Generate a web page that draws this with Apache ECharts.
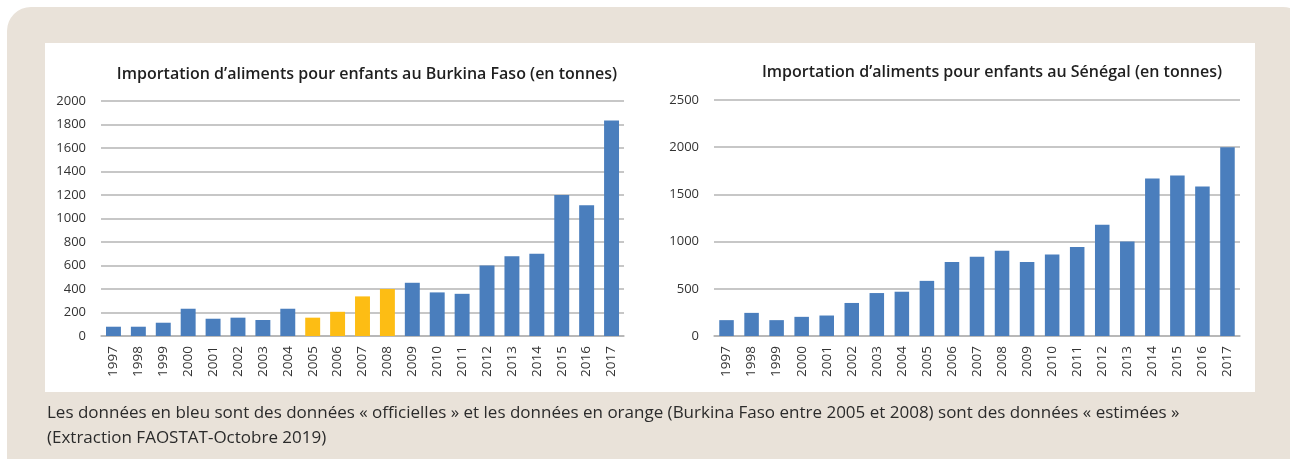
<!DOCTYPE html>
<html lang="fr">
<head>
<meta charset="utf-8">
<title>Importation d'aliments pour enfants</title>
<script src="https://cdn.jsdelivr.net/npm/echarts@6/dist/echarts.min.js"></script>
<style>
  html, body { margin: 0; padding: 0; background: #ffffff; }
  #page { position: relative; width: 1290px; height: 459px; overflow: hidden; }
  #frame {
    position: absolute; left: 7px; top: 7px; width: 1300px; height: 480px;
    background: #e9e2d9; border-radius: 24px 24px 0 0;
  }
  #panel {
    position: absolute; left: 45px; top: 43px; width: 1210px; height: 349px;
    background: #ffffff;
  }
  #chart { position: absolute; left: 0; top: 0; width: 1290px; height: 459px; }
  #caption {
    position: absolute; left: 47px; top: 399px; width: 1230px;
    font-family: "Open Sans", Lato, sans-serif; font-size: 17px; line-height: 25px;
    color: #2b2b2b; white-space: nowrap;
  }
</style>
</head>
<body>
<div id="page">
  <div id="frame"></div>
  <div id="panel"></div>
  <div id="chart"></div>
  <div id="caption">Les données en bleu sont des données « officielles » et les données en orange (Burkina Faso entre 2005 et 2008) sont des données « estimées »<br>(Extraction FAOSTAT-Octobre 2019)</div>
</div>
<script>
// Years shared by both charts
const years = ['1997','1998','1999','2000','2001','2002','2003','2004','2005','2006','2007',
               '2008','2009','2010','2011','2012','2013','2014','2015','2016','2017'];

// Imports of baby food, tonnes
const burkinaFaso = [79, 79, 113, 232, 147, 156, 136, 232, 156, 206, 337,
                     400, 453, 371, 359, 600, 679, 699, 1200, 1112, 1833];
const senegal = [168, 245, 168, 203, 217, 350, 455, 469, 584, 783, 839,
                 902, 783, 864, 944, 1178, 1000, 1668, 1699, 1584, 2000];

// Burkina Faso years whose values are estimates rather than official figures
const estimatedYears = ['2005', '2006', '2007', '2008'];

// Y-axis ticks
const burkinaTicks = { min: 0, max: 2000, interval: 200 };
const senegalTicks = { min: 0, max: 2500, interval: 500 };

const BLUE = '#4a7ebd';
const ORANGE = '#fdbd14';
const GRID_LINE = '#b4b4b4';
const TICK_TEXT = '#333333';
const FONT = '"Open Sans", "Liberation Sans", sans-serif';

const chart = echarts.init(document.getElementById('chart'), null, { renderer: 'canvas' });

function catAxis(gridIndex) {
  return {
    type: 'category', gridIndex, data: years,
    axisLine: { show: true, lineStyle: { color: GRID_LINE, width: 1.5 } },
    axisTick: { show: false },
    axisLabel: { rotate: 90, color: TICK_TEXT, fontFamily: FONT, fontSize: 13.5, margin: 10, interval: 0 }
  };
}
function valAxis(gridIndex, t) {
  return {
    type: 'value', gridIndex, min: t.min, max: t.max, interval: t.interval,
    axisLine: { show: false }, axisTick: { show: false },
    axisLabel: { color: TICK_TEXT, fontFamily: FONT, fontSize: 13, margin: 15,
                 formatter: v => String(v) },
    splitLine: { lineStyle: { color: GRID_LINE, width: 1.5 } }
  };
}

chart.setOption({
  backgroundColor: 'transparent',
  animation: false,
  title: [
    {
      text: 'Importation d\u2019aliments pour enfants au Burkina Faso (en tonnes)',
      left: 362, top: 61, textAlign: 'center',
      textStyle: { fontFamily: FONT, fontSize: 16, fontWeight: 600, color: '#1f1f1f' }
    },
    {
      text: 'Importation d\u2019aliments pour enfants au Sénégal (en tonnes)',
      left: 987, top: 59, textAlign: 'center',
      textStyle: { fontFamily: FONT, fontSize: 16, fontWeight: 600, color: '#1f1f1f' }
    }
  ],
  grid: [
    { left: 101, right: 666, top: 101, bottom: 123 },
    { left: 714, right: 50, top: 100, bottom: 123 }
  ],
  xAxis: [catAxis(0), catAxis(1)],
  yAxis: [valAxis(0, burkinaTicks), valAxis(1, senegalTicks)],
  series: [
    {
      type: 'bar', xAxisIndex: 0, yAxisIndex: 0, barWidth: '60%',
      data: burkinaFaso.map((v, i) => ({
        value: v,
        itemStyle: { color: estimatedYears.includes(years[i]) ? ORANGE : BLUE }
      }))
    },
    {
      type: 'bar', xAxisIndex: 1, yAxisIndex: 1, barWidth: '58%',
      itemStyle: { color: BLUE },
      data: senegal
    }
  ]
});
</script>
</body>
</html>
